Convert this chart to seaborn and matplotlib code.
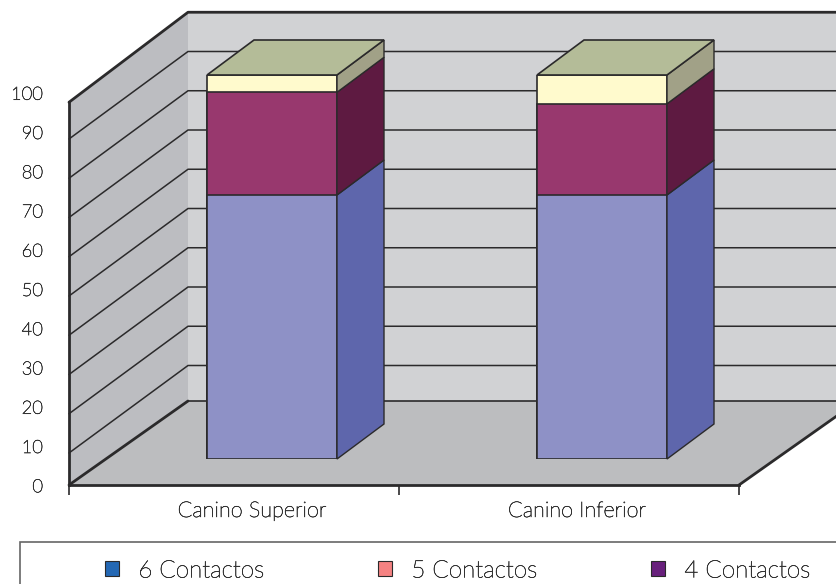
import matplotlib
matplotlib.use("Agg")
import matplotlib.pyplot as plt
import matplotlib.patheffects as pe
from matplotlib.patches import Polygon, Patch, Rectangle
import pandas as pd
import seaborn as sns

categories = ["Canino Superior", "Canino Inferior"]
series_names = ["6 Contactos", "5 Contactos", "4 Contactos"]
contactos_6 = [68.75, 68.75]
contactos_5 = [26.75, 23.75]
contactos_4 = [4.5, 7.5]
series_values = [contactos_6, contactos_5, contactos_4]
y_ticks = [0, 10, 20, 30, 40, 50, 60, 70, 80, 90, 100]

front_colors = ["#8e91c6", "#98386e", "#fffacd"]
side_colors = ["#5e66ac", "#5e1a41", "#a1a187"]
top_color = "#b4bc98"
legend_colors = ["#2468b4", "#f58282", "#68207c"]
LINE = "#2b2a2b"
TEXT = "#333333"
STROKE = [pe.withStroke(linewidth=0.4, foreground=TEXT)]

W, H = 836, 584
sns.set_theme(style="white")
plt.rcParams["font.family"] = ["Lato", "DejaVu Sans"]
plt.rcParams["font.weight"] = "light"

fig = plt.figure(figsize=(W / 100, H / 100), dpi=100)


def axes_px(x0, x1, ytop, ybot):
    return fig.add_axes([x0 / W, (H - ybot) / H, (x1 - x0) / W, (ybot - ytop) / H])


# ---- walls and floor -------------------------------------------------
wall = axes_px(69, 739, 99.75, 485)
PX_X, PX_Y = 330.0, 3.925
xmin, xmax = -0.5, -0.5 + 670 / PX_X
ymin, ymax = 100 - 385.25 / PX_Y, 100
wall.set_xlim(xmin, xmax)
wall.set_ylim(ymin, ymax)
wall.patch.set_visible(False)
dx, dy = 119 / PX_X, 87.5 / PX_Y
floor_back = ymin + 84 / PX_Y
corner = 100 - 2.5 / PX_Y

wall.add_patch(Polygon([(xmin + dx, floor_back), (xmax + dx, floor_back), (xmax + dx, 100 + dy), (xmin + dx, 100 + dy)],
                       fc="#d1d2d4", ec="none", clip_on=False, zorder=1))
wall.add_patch(Polygon([(xmin, ymin), (xmin + dx, floor_back), (xmin + dx, 100 + dy), (xmin, corner)],
                       fc="#bcbdc1", ec="none", clip_on=False, zorder=1))
for v in y_ticks[1:-1]:
    wall.plot([xmin, xmin + dx, xmax + dx], [v, v + dy, v + dy], color=LINE, lw=1.1, clip_on=False, zorder=2)
wall.plot([xmin, xmin + dx, xmax + dx], [corner, 100 + dy, 100 + dy], color=LINE, lw=2.0, clip_on=False, zorder=2)
wall.add_patch(Polygon([(xmin, ymin), (xmin + dx, floor_back), (xmax + dx, floor_back), (xmax, ymin)],
                       fc="#bcbdbf", ec="none", clip_on=False, zorder=3))
wall.plot([xmin + dx, xmax + dx], [floor_back, floor_back], color=LINE, lw=1.2, clip_on=False, zorder=4)
wall.plot([xmin, xmin + dx], [ymin, floor_back], color=LINE, lw=2.0, clip_on=False, zorder=4)
wall.plot([xmax, xmax + dx], [ymin, floor_back], color=LINE, lw=2.0, clip_on=False, zorder=4)

for side in ["top", "right"]:
    wall.spines[side].set_visible(False)
for side in ["left", "bottom"]:
    wall.spines[side].set_visible(True)
    wall.spines[side].set_color(LINE)
    wall.spines[side].set_linewidth(2.0)
    wall.spines[side].set_zorder(5)
wall.spines["left"].set_bounds(ymin, corner)
wall.set_yticks([])
wall.set_xticks([xmin, 0.5, xmax])
wall.set_xticklabels([])
wall.tick_params(axis="x", bottom=True, length=7, width=1.2, color=LINE)

for v in y_ticks:
    wall.annotate(str(v), xy=(xmin, v), xytext=(-26, 5), textcoords="offset pixels",
                  ha="right", va="center", fontsize=13.2, color=TEXT, annotation_clip=False,
                  path_effects=STROKE)
for i, (name, shift) in enumerate(zip(categories, [18, 13])):
    wall.annotate(name, xy=(i, ymin), xytext=(shift, -26), textcoords="offset pixels",
                  ha="center", va="center", fontsize=15.6, color=TEXT, annotation_clip=False,
                  path_effects=STROKE)

# ---- bars (plane of the bars' front faces) -----------------------------
bars = axes_px(107, 767, 75, 459)
bars.patch.set_visible(False)
bar_w = 130 / PX_X
rows = []
for ci, cat in enumerate(categories):
    total = 0.0
    for name, vals in zip(series_names, series_values):
        total += vals[ci]
        rows.append({"categoria": cat, "serie": name, "acumulado": total})
df = pd.DataFrame(rows)
sns.barplot(data=df, x="categoria", y="acumulado", hue="serie", order=categories,
            hue_order=series_names[::-1], palette=dict(zip(series_names, front_colors)),
            dodge=False, width=bar_w, saturation=1, edgecolor=LINE, linewidth=1.2,
            legend=False, ax=bars, zorder=6)
bars.set_xlim(-0.5, 1.5)
bars.set_ylim(0, 100)
bars.axis("off")

bdx, bdy = 47 / PX_X, 35 / 3.84
for ci in range(len(categories)):
    x0, x1 = ci - bar_w / 2, ci + bar_w / 2
    low = 0.0
    for vals, col in zip(series_values, side_colors):
        high = low + vals[ci]
        bars.add_patch(Polygon([(x1, low), (x1 + bdx, low + bdy), (x1 + bdx, high + bdy), (x1, high)],
                               fc=col, ec=LINE, lw=1.0, clip_on=False, zorder=6))
        low = high
    bars.add_patch(Polygon([(x0, low), (x1, low), (x1 + bdx, low + bdy), (x0 + bdx, low + bdy)],
                           fc=top_color, ec=LINE, lw=1.2, clip_on=False, zorder=6))

# ---- legend --------------------------------------------------------------
fig.add_artist(Rectangle((20 / W, -0.02), 1, (H - 542) / H + 0.02, transform=fig.transFigure,
                         fc="white", ec="#666666", lw=1.2))
handles = [Patch(fc=c, ec=LINE, lw=0.8, label=n) for c, n in zip(legend_colors, series_names)]
leg = fig.legend(handles=handles, ncol=3, frameon=False, loc="center left",
                 bbox_to_anchor=(105 / W, (H - 571) / H), borderaxespad=0, borderpad=0,
                 fontsize=17.4, labelcolor=TEXT, handlelength=0.58, handleheight=0.58,
                 handletextpad=0.8, columnspacing=4.72)
for t in leg.get_texts():
    t.set_path_effects(STROKE)

fig.savefig("out.png", dpi=100)
